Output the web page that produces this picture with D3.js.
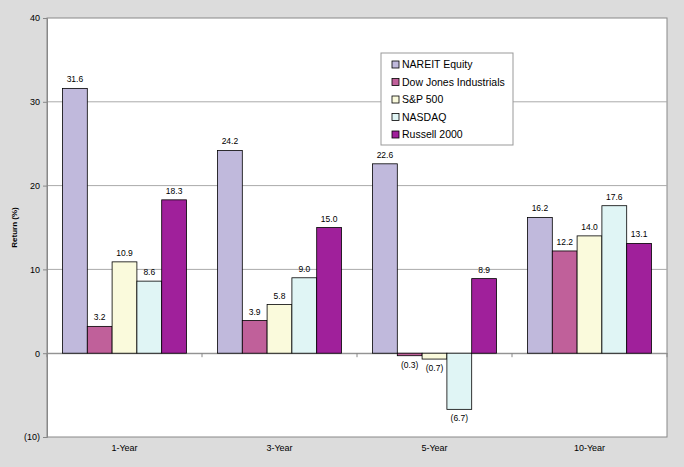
<!DOCTYPE html>
<html><head><meta charset="utf-8">
<script src="https://cdn.jsdelivr.net/npm/d3@7"></script>
<style>body{margin:0;background:#dcdcdc}text{font-family:Arial,"Liberation Sans",sans-serif}</style>
</head><body>
<svg id="c" width="684" height="467"></svg>
<script>
"use strict";
var categories = ["1-Year", "3-Year", "5-Year", "10-Year"];
var seriesNames = ["NAREIT Equity", "Dow Jones Industrials", "S&P 500", "NASDAQ", "Russell 2000"];
var nareit = [31.6, 24.2, 22.6, 16.2];
var dow = [3.2, 3.9, -0.3, 12.2];
var sp500 = [10.9, 5.8, -0.7, 14.0];
var nasdaq = [8.6, 9.0, -6.7, 17.6];
var russell = [18.3, 15.0, 8.9, 13.1];
var yTicks = [-10, 0, 10, 20, 30, 40];
var colors = ["#c0b9dc", "#c0609a", "#fafadc", "#e0f5f5", "#a0209b"];
var series = [nareit, dow, sp500, nasdaq, russell];

var margin = {top: 18, left: 47, right: 17, bottom: 30};
var w = 684 - margin.left - margin.right, h = 467 - margin.top - margin.bottom;
var svg = d3.select('#c');
svg.append('rect').attr('x', 3).attr('y', 3).attr('width', 678).attr('height', 461).attr('fill', '#dcdcdc');
var g = svg.append('g').attr('transform', 'translate(' + margin.left + ',' + margin.top + ')');
g.append('rect').attr('width', w).attr('height', h).attr('fill', '#fff').attr('stroke', '#888');

var y = d3.scaleLinear().domain([-10, 40]).range([h, 0]);
var x0 = d3.scaleBand().domain(categories).range([0, w]);
var x1 = d3.scaleBand().domain(d3.range(5)).range([0, 124]);

g.selectAll('.grid').data(yTicks.slice(1, -1)).join('line')
  .attr('x1', 0).attr('x2', w).attr('y1', d => y(d)).attr('y2', d => y(d))
  .attr('stroke', '#aaa');

var yAxis = g.append('g').call(d3.axisLeft(y).tickValues(yTicks).tickSize(4)
  .tickFormat(d => d < 0 ? '(' + (-d) + ')' : d));
yAxis.select('.domain').attr('stroke', '#888');
yAxis.selectAll('line').attr('stroke', '#888');
yAxis.selectAll('text').attr('font-size', 9).attr('fill', '#000');

var xAxis = g.append('g').attr('transform', 'translate(0,' + y(0) + ')')
  .call(d3.axisBottom(x0).tickSize(0).tickFormat(''));
xAxis.select('.domain').attr('stroke', '#888');
g.selectAll('.sep').data(d3.range(5)).join('line')
  .attr('x1', i => i * x0.bandwidth()).attr('x2', i => i * x0.bandwidth())
  .attr('y1', y(0)).attr('y2', y(0) + 4).attr('stroke', '#888');
g.selectAll('.cat').data(categories).join('text')
  .attr('x', d => x0(d) + x0.bandwidth() / 2).attr('y', h + 14)
  .attr('text-anchor', 'middle').attr('font-size', 9).text(d => d);

g.append('text').attr('transform', 'translate(-30,' + (h / 2) + ') rotate(-90)')
  .attr('text-anchor', 'middle').attr('font-size', 8).attr('font-weight', 'bold').text('Return (%)');

var fmt = v => v < 0 ? '(' + (-v).toFixed(1) + ')' : v.toFixed(1);
series.forEach(function(vals, s) {
  var grp = g.append('g');
  vals.forEach(function(v, i) {
    var bx = x0(categories[i]) + (x0.bandwidth() - 124) / 2 + x1(s);
    grp.append('rect').attr('x', bx).attr('width', x1.bandwidth())
      .attr('y', y(Math.max(0, v))).attr('height', Math.abs(y(v) - y(0)))
      .attr('fill', colors[s]).attr('stroke', '#000').attr('stroke-width', 0.8);
    grp.append('text').attr('x', bx + x1.bandwidth() / 2)
      .attr('y', v >= 0 ? y(v) - 6 : y(v) + 12)
      .attr('text-anchor', 'middle').attr('font-size', 8.5).text(fmt(v));
  });
});

var legend = svg.append('g').attr('transform', 'translate(381,53)');
legend.append('rect').attr('width', 132).attr('height', 92).attr('fill', '#fff').attr('stroke', '#999');
legend.selectAll('rect.sw').data(seriesNames).join('rect').attr('class', 'sw')
  .attr('x', 11).attr('y', (d, i) => 8 + i * 17.5).attr('width', 7).attr('height', 7)
  .attr('fill', (d, i) => colors[i]).attr('stroke', '#000').attr('stroke-width', 0.8);
legend.selectAll('text').data(seriesNames).join('text')
  .attr('x', 21).attr('y', (d, i) => 15 + i * 17.5).attr('font-size', 10.5).text(d => d);
</script>
</body></html>
